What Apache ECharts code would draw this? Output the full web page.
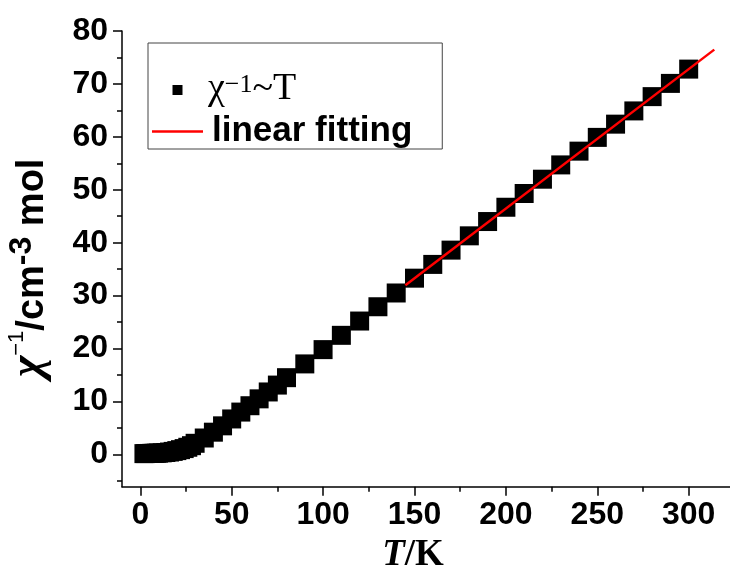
<!DOCTYPE html>
<html>
<head>
<meta charset="utf-8">
<script src="https://cdn.jsdelivr.net/npm/echarts@6/dist/echarts.min.js"></script>
<style>html,body{margin:0;padding:0;background:#fff}#c{width:730px;height:570px}</style>
</head>
<body>
<div id="c"></div>
<script>
// ---- data ----
const temps = [2,3,4,5,6,7,8,9,10,12,14,16,18,20,22,24,26,28,30,35,40,45,50,55,60,65,70,75,80,90,100,110,120,130,140,150,160,170,180,190,200,210,220,230,240,250,260,270,280,290,300];
const chiInv = [0.15,0.16,0.17,0.18,0.19,0.2,0.21,0.23,0.25,0.3,0.36,0.45,0.57,0.72,0.9,1.1,1.35,1.65,2.1,3.1,4.2,5.4,6.7,8.0,9.2,10.5,11.8,13.1,14.5,17.1,19.8,22.5,25.2,27.9,30.5,33.3,35.9,38.6,41.3,44.0,46.7,49.3,52.0,54.7,57.3,59.9,62.4,64.9,67.6,70.1,72.8];
const fitT = [145, 314];
const fitV = [31.98, 76.48];
const xMajor = [0,50,100,150,200,250,300];
const xMinor = [25,75,125,175,225,275];
const yMajor = [0,10,20,30,40,50,60,70,80];
const yMinor = [-5,5,15,25,35,45,55,65,75];

const SANS = '"Liberation Sans", Arial, sans-serif';
const SERIF = '"Liberation Serif", "Times New Roman", serif';
const X_MIN = -10, X_MAX = 322.6, Y_MIN = -6.1, Y_MAX = 80;

const chart = echarts.init(document.getElementById('c'), null, {renderer: 'canvas'});
const axisLine = {show: true, onZero: false, lineStyle: {color: '#000', width: 1.5}};
const labelStyle = {color: '#000', fontFamily: SANS, fontWeight: 'bold', fontSize: 32};

chart.setOption({
  animation: false,
  backgroundColor: '#fff',
  grid: {left: 122, right: 0, top: 31, bottom: 83.3, containLabel: false, outerBoundsMode: 'none'},
  xAxis: [{
    type: 'value', min: X_MIN, max: X_MAX, position: 'bottom',
    axisLine: axisLine,
    axisTick: {show: true, customValues: xMajor, length: 9, lineStyle: {color: '#000', width: 1.5}},
    axisLabel: Object.assign({customValues: xMajor, margin: 12}, labelStyle),
    splitLine: {show: false},
    name: '{it|T}{rm|/K}', nameLocation: 'middle', nameGap: 50,
    nameTextStyle: {padding: [0, 26, 0, 0], rich: {
      it: {fontFamily: SERIF, fontStyle: 'italic', fontWeight: 'bold', fontSize: 37, color: '#000'},
      rm: {fontFamily: SERIF, fontWeight: 'bold', fontSize: 37, color: '#000'}
    }}
  }, {
    type: 'value', min: X_MIN, max: X_MAX, position: 'bottom',
    axisLine: {show: false, onZero: false},
    axisTick: {show: true, customValues: xMinor, length: 5, lineStyle: {color: '#000', width: 1.5}},
    axisLabel: {show: false},
    splitLine: {show: false}
  }],
  yAxis: [{
    type: 'value', min: Y_MIN, max: Y_MAX, position: 'left',
    axisLine: axisLine,
    axisTick: {show: true, customValues: yMajor, length: 9, lineStyle: {color: '#000', width: 1.5}},
    axisLabel: Object.assign({customValues: yMajor, margin: 14}, labelStyle),
    splitLine: {show: false},
    name: '{chi|χ}{s1|−1}{b|/cm}{s3|-3}{b| mol}', nameLocation: 'middle', nameRotate: 90, nameGap: 70,
    nameTextStyle: {padding: [0, 18, 0, 0], rich: {
      chi: {fontFamily: SERIF, fontStyle: 'italic', fontWeight: 'bold', fontSize: 46, lineHeight: 46, verticalAlign: 'bottom', color: '#000'},
      s1: {fontFamily: SANS, fontSize: 22, lineHeight: 22, verticalAlign: 'top', color: '#000'},
      b: {fontFamily: SANS, fontWeight: 'bold', fontSize: 38, lineHeight: 46, verticalAlign: 'bottom', color: '#000'},
      s3: {fontFamily: SANS, fontWeight: 'bold', fontSize: 32, lineHeight: 32, verticalAlign: 'top', color: '#000'}
    }}
  }, {
    type: 'value', min: Y_MIN, max: Y_MAX, position: 'left',
    axisLine: {show: false, onZero: false},
    axisTick: {show: true, customValues: yMinor, length: 5, lineStyle: {color: '#000', width: 1.5}},
    axisLabel: {show: false},
    splitLine: {show: false}
  }],
  legend: {
    orient: 'vertical', left: 148, top: 43,
    padding: [27, 30, 0, 4], itemGap: 6,
    itemWidth: 51, itemHeight: 10,
    borderColor: '#444', borderWidth: 1,
    selectedMode: false,
    data: [
      {name: 'chiT', icon: 'path://M0,0L10,0L10,10L0,10Z'},
      {name: 'fit', icon: 'path://M0,0L100,0L100,5L0,5Z'}
    ],
    formatter: function (n) {
      return n === 'chiT' ? '{g|χ}{gs|−1}{g|~T}' : '{f|linear fitting}';
    },
    textStyle: {rich: {
      g: {fontFamily: SERIF, fontSize: 38, lineHeight: 36, verticalAlign: 'bottom', color: '#000'},
      gs: {fontFamily: SERIF, fontSize: 26, lineHeight: 24, verticalAlign: 'top', color: '#000'},
      f: {fontFamily: SANS, fontWeight: 'bold', fontSize: 35, lineHeight: 36, padding: [0, 0, 0, 4], color: '#000'}
    }}
  },
  series: [{
    name: 'chiT', type: 'scatter', xAxisIndex: 0, yAxisIndex: 0,
    symbol: 'rect', symbolSize: 19,
    itemStyle: {color: '#000', opacity: 1},
    data: temps.map((t, i) => [t, chiInv[i]]),
    z: 2
  }, {
    name: 'fit', type: 'line', xAxisIndex: 0, yAxisIndex: 0,
    showSymbol: false, symbol: 'none',
    lineStyle: {color: '#ff0000', width: 2.5},
    itemStyle: {color: '#ff0000'},
    data: fitT.map((t, i) => [t, fitV[i]]),
    z: 3
  }]
});
</script>
</body>
</html>
